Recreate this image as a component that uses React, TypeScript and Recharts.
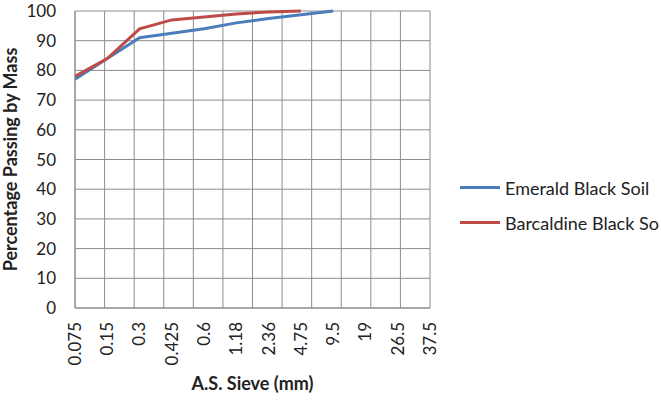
import React from "react";
import { LineChart, Line, XAxis, YAxis, CartesianGrid, Legend } from "recharts";

// Sieve sizes (mm) used as categories
const sieves = ["0.075", "0.15", "0.3", "0.425", "0.6", "1.18", "2.36", "4.75", "9.5", "19", "26.5", "37.5"];
// Percentage passing by mass for each soil
const emerald = [77, 84, 91, 92.5, 94, 96, 97.5, 98.7, 100, null, null, null];
const barcaldine = [78, 84, 94, 97, 98, 99, 99.7, 100, null, null, null, null];
const yTicks = [0, 10, 20, 30, 40, 50, 60, 70, 80, 90, 100];

const BLUE = "#4A7EBB";
const RED = "#BE4B48";
const GRID = "#8C8C8C";
const FONT = "Lato, 'Liberation Sans', sans-serif";

const series = [
  { key: "emerald", name: "Emerald Black Soil", color: BLUE },
  { key: "barcaldine", name: "Barcaldine Black So", color: RED },
];

const data = sieves.map((s, i) => ({ sieve: s, emerald: emerald[i], barcaldine: barcaldine[i] }));

const XTick = (props: any) => {
  const { x, y, payload } = props;
  return (
    <text
      x={0}
      y={0}
      dy="0.35em"
      textAnchor="end"
      fontSize={17}
      fill="#222"
      fontFamily={FONT}
      transform={`translate(${x},${y}) rotate(-90)`}
    >
      {payload.value}
    </text>
  );
};

// Legend listed in series order
const LegendContent = () => (
  <div style={{ fontFamily: FONT, fontSize: 18, color: "#222" }}>
    {series.map((s) => (
      <div key={s.key} style={{ display: "flex", alignItems: "center", height: 35, whiteSpace: "nowrap" }}>
        <span style={{ display: "inline-block", width: 40, height: 3, background: s.color, marginRight: 5 }} />
        <span>{s.name}</span>
      </div>
    ))}
  </div>
);

export default function App() {
  return (
    <div style={{ position: "absolute", left: 0, top: 0, width: 661, height: 402, background: "#fff", overflow: "hidden" }}>
      <LineChart width={661} height={402} data={data} margin={{ top: 11, right: 231, bottom: 0, left: 0 }}>
        <CartesianGrid
          stroke={GRID}
          strokeWidth={1}
          verticalCoordinatesGenerator={({ offset }: any) =>
            sieves.map((_, i) => offset.left + (i * offset.width) / sieves.length).concat([offset.left + offset.width])
          }
        />
        <XAxis
          dataKey="sieve"
          stroke={GRID}
          tickLine={false}
          tickSize={0}
          tickMargin={14}
          height={94}
          interval={0}
          tick={<XTick />}
          label={(p: any) => {
            const vb = p.viewBox;
            return (
              <text
                x={vb.x + vb.width / 2}
                y={383}
                textAnchor="middle"
                dominantBaseline="central"
                fontFamily={FONT}
                fontWeight="bold"
                fontSize={18}
                fill="#222"
              >
                A.S. Sieve (mm)
              </text>
            );
          }}
        />
        <YAxis
          domain={[0, 100]}
          ticks={yTicks}
          stroke={GRID}
          tickLine={false}
          tickSize={0}
          tickMargin={19}
          width={75}
          tick={{ fontSize: 17, fill: "#222", fontFamily: FONT }}
          label={(p: any) => {
            const vb = p.viewBox;
            const cy = vb.y + vb.height / 2;
            return (
              <text
                x={10}
                y={cy}
                textAnchor="middle"
                dominantBaseline="central"
                fontFamily={FONT}
                fontWeight="bold"
                fontSize={18}
                fill="#222"
                transform={`rotate(-90, 10, ${cy})`}
              >
                Percentage Passing by Mass
              </text>
            );
          }}
        />
        <Legend
          layout="vertical"
          align="center"
          verticalAlign="middle"
          content={<LegendContent />}
          wrapperStyle={{ left: 460, top: 170, width: 201 }}
        />
        <Line
          type="linear"
          dataKey="emerald"
          name={series[0].name}
          stroke={BLUE}
          strokeWidth={3}
          dot={false}
          isAnimationActive={false}
        />
        <Line
          type="linear"
          dataKey="barcaldine"
          name={series[1].name}
          stroke={RED}
          strokeWidth={3}
          dot={false}
          isAnimationActive={false}
        />
      </LineChart>
    </div>
  );
}
